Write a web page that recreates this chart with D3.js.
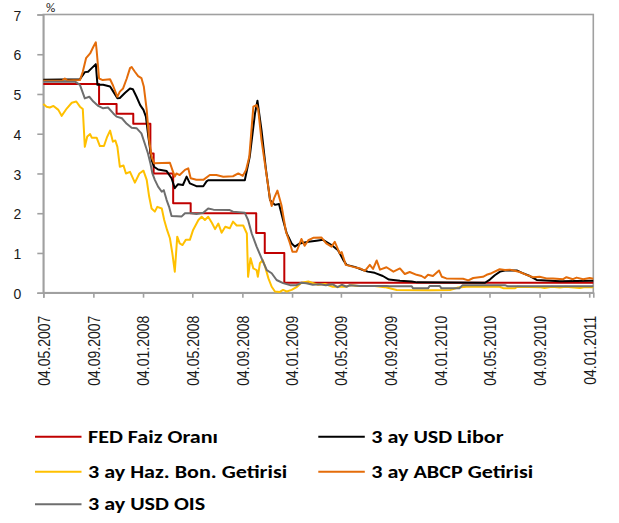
<!DOCTYPE html>
<html>
<head>
<meta charset="utf-8">
<script src="https://cdn.jsdelivr.net/npm/d3@7"></script>
<style>
  html, body { margin: 0; padding: 0; background: #fff; }
  svg { display: block; font-family: Carlito, Lato, "Open Sans", sans-serif; }
</style>
</head>
<body>
<svg id="chart" width="619" height="523"></svg>
<script>
// Faiz oranları, % (Mayıs 2007 – Ocak 2011)
const fedRate = [
  ["2007-05-04", 5.25], ["2007-09-18", 4.75], ["2007-10-31", 4.50], ["2007-12-11", 4.25],
  ["2008-01-22", 3.50], ["2008-01-30", 3.00], ["2008-03-18", 2.25], ["2008-04-30", 2.00],
  ["2008-10-08", 1.50], ["2008-10-29", 1.00], ["2008-12-16", 0.25], ["2011-01-14", 0.25]
];

const liborRate = [
  ["2007-05-04", 5.36], ["2007-08-02", 5.37], ["2007-08-14", 5.55], ["2007-08-22", 5.56],
  ["2007-08-31", 5.65], ["2007-09-10", 5.75], ["2007-09-14", 5.23], ["2007-09-28", 5.23],
  ["2007-10-15", 5.19], ["2007-10-23", 5.06], ["2007-11-02", 4.89], ["2007-11-08", 4.90],
  ["2007-11-21", 5.03], ["2007-12-03", 5.14], ["2007-12-10", 5.12], ["2007-12-19", 4.93],
  ["2007-12-28", 4.72], ["2008-01-05", 4.60], ["2008-01-11", 4.43], ["2008-01-17", 3.93],
  ["2008-01-25", 3.34], ["2008-01-31", 3.17], ["2008-02-10", 3.10], ["2008-03-02", 3.06],
  ["2008-03-14", 2.88], ["2008-03-22", 2.63], ["2008-03-30", 2.73], ["2008-04-11", 2.71],
  ["2008-04-20", 2.92], ["2008-04-28", 2.75], ["2008-05-14", 2.68], ["2008-05-31", 2.68],
  ["2008-06-08", 2.80], ["2008-06-12", 2.83], ["2008-09-10", 2.83], ["2008-09-22", 3.42],
  ["2008-10-05", 4.51], ["2008-10-11", 4.83], ["2008-10-21", 4.09], ["2008-11-01", 3.09],
  ["2008-11-11", 2.33], ["2008-11-23", 2.21], ["2008-12-03", 2.23], ["2008-12-13", 1.83],
  ["2008-12-22", 1.49], ["2009-01-03", 1.24], ["2009-01-11", 1.16], ["2009-01-23", 1.24],
  ["2009-02-13", 1.28], ["2009-03-05", 1.31], ["2009-03-21", 1.33], ["2009-04-11", 1.20],
  ["2009-04-27", 1.07], ["2009-05-10", 0.82], ["2009-05-18", 0.70], ["2009-06-07", 0.65],
  ["2009-06-27", 0.57], ["2009-07-09", 0.53], ["2009-07-26", 0.50], ["2009-08-15", 0.42],
  ["2009-08-30", 0.33], ["2009-09-26", 0.30], ["2009-10-25", 0.28], ["2009-11-07", 0.26],
  ["2010-04-23", 0.25], ["2010-05-05", 0.33], ["2010-05-17", 0.44], ["2010-05-30", 0.53],
  ["2010-06-11", 0.56], ["2010-07-10", 0.56], ["2010-07-23", 0.50], ["2010-08-11", 0.42],
  ["2010-08-28", 0.32], ["2010-10-24", 0.29], ["2011-01-14", 0.30]
];

const tbillRate = [
  ["2007-05-04", 4.75], ["2007-05-12", 4.68], ["2007-05-20", 4.66], ["2007-05-29", 4.70],
  ["2007-06-10", 4.60], ["2007-06-18", 4.45], ["2007-07-01", 4.64], ["2007-07-13", 4.78],
  ["2007-07-24", 4.81], ["2007-08-02", 4.68], ["2007-08-09", 4.62], ["2007-08-14", 3.67],
  ["2007-08-20", 3.93], ["2007-08-27", 3.99], ["2007-08-31", 3.90], ["2007-09-12", 3.90],
  ["2007-09-20", 3.69], ["2007-09-30", 3.69], ["2007-10-07", 3.90], ["2007-10-15", 4.08],
  ["2007-10-22", 3.80], ["2007-10-28", 3.83], ["2007-11-02", 3.67], ["2007-11-08", 3.17],
  ["2007-11-17", 3.20], ["2007-11-23", 3.00], ["2007-12-03", 3.04], ["2007-12-15", 2.77],
  ["2007-12-26", 3.00], ["2008-01-05", 3.07], ["2008-01-13", 2.84], ["2008-01-19", 2.42],
  ["2008-01-25", 2.12], ["2008-02-02", 2.04], ["2008-02-08", 2.16], ["2008-02-19", 2.12],
  ["2008-02-25", 1.83], ["2008-03-03", 1.58], ["2008-03-10", 1.37], ["2008-03-16", 0.99],
  ["2008-03-22", 0.53], ["2008-03-28", 1.41], ["2008-04-03", 1.24], ["2008-04-10", 1.20],
  ["2008-04-18", 1.33], ["2008-04-28", 1.33], ["2008-05-06", 1.58], ["2008-05-19", 1.83],
  ["2008-05-27", 1.91], ["2008-06-04", 1.83], ["2008-06-12", 1.91], ["2008-06-21", 1.76],
  ["2008-06-29", 1.60], ["2008-07-07", 1.74], ["2008-07-15", 1.51], ["2008-07-24", 1.66],
  ["2008-08-04", 1.62], ["2008-08-12", 1.79], ["2008-08-21", 1.69], ["2008-09-06", 1.69],
  ["2008-09-15", 1.49], ["2008-09-18", 0.40], ["2008-09-24", 0.87], ["2008-10-01", 0.61],
  ["2008-10-09", 0.57], ["2008-10-12", 0.40], ["2008-10-17", 0.74], ["2008-10-24", 0.82],
  ["2008-10-30", 0.65], ["2008-11-07", 0.36], ["2008-11-15", 0.15], ["2008-11-23", 0.03],
  ["2008-12-05", 0.02], ["2008-12-13", 0.07], ["2008-12-22", 0.03], ["2009-01-03", 0.07],
  ["2009-01-15", 0.14], ["2009-01-27", 0.25], ["2009-02-13", 0.28], ["2009-02-25", 0.24],
  ["2009-03-09", 0.20], ["2009-03-26", 0.22], ["2009-04-14", 0.15], ["2009-05-14", 0.15],
  ["2009-05-31", 0.19], ["2009-06-15", 0.17], ["2009-07-26", 0.17], ["2009-08-20", 0.14],
  ["2009-09-01", 0.11], ["2009-09-18", 0.07], ["2009-12-08", 0.06], ["2010-01-27", 0.07],
  ["2010-02-16", 0.13], ["2010-03-09", 0.15], ["2010-05-29", 0.15], ["2010-06-08", 0.11],
  ["2010-07-05", 0.11], ["2010-07-12", 0.15], ["2010-09-04", 0.14], ["2010-09-16", 0.12],
  ["2010-10-04", 0.15], ["2010-10-24", 0.13], ["2010-11-07", 0.15], ["2010-12-12", 0.12],
  ["2010-12-25", 0.14], ["2011-01-14", 0.14]
];

const abcpRate = [
  ["2007-05-04", 5.33], ["2007-06-20", 5.34], ["2007-06-26", 5.39], ["2007-07-02", 5.34],
  ["2007-08-02", 5.35], ["2007-08-09", 5.56], ["2007-08-17", 5.90], ["2007-08-27", 6.02],
  ["2007-09-04", 6.19], ["2007-09-10", 6.30], ["2007-09-12", 6.10], ["2007-09-18", 5.39],
  ["2007-09-27", 5.35], ["2007-10-15", 5.37], ["2007-10-22", 5.22], ["2007-11-02", 4.93],
  ["2007-11-08", 5.06], ["2007-11-16", 5.14], ["2007-11-25", 5.39], ["2007-12-03", 5.65],
  ["2007-12-07", 5.68], ["2007-12-15", 5.56], ["2007-12-23", 5.45], ["2007-12-31", 5.40],
  ["2008-01-06", 5.18], ["2008-01-13", 4.60], ["2008-01-19", 3.84], ["2008-01-25", 3.42],
  ["2008-01-31", 3.26], ["2008-03-10", 3.27], ["2008-03-16", 3.09], ["2008-03-22", 2.92],
  ["2008-03-26", 3.00], ["2008-04-03", 2.96], ["2008-04-16", 3.09], ["2008-04-24", 3.13],
  ["2008-04-30", 2.88], ["2008-05-14", 2.84], ["2008-05-31", 2.84], ["2008-06-16", 2.96],
  ["2008-07-02", 2.96], ["2008-07-19", 2.92], ["2008-08-12", 2.93], ["2008-08-25", 3.00],
  ["2008-09-05", 2.94], ["2008-09-13", 3.09], ["2008-09-21", 3.42], ["2008-09-27", 4.18],
  ["2008-10-01", 4.68], ["2008-10-09", 4.72], ["2008-10-13", 4.60], ["2008-10-21", 3.84],
  ["2008-11-03", 2.92], ["2008-11-11", 2.35], ["2008-11-15", 2.18], ["2008-11-21", 2.38],
  ["2008-11-29", 2.57], ["2008-12-09", 2.20], ["2008-12-20", 1.54], ["2008-12-30", 1.24],
  ["2009-01-05", 1.03], ["2009-01-15", 1.03], ["2009-01-27", 1.35], ["2009-02-04", 1.18],
  ["2009-02-13", 1.32], ["2009-02-25", 1.38], ["2009-03-17", 1.39], ["2009-03-29", 1.24],
  ["2009-04-11", 1.16], ["2009-04-19", 1.28], ["2009-05-01", 0.99], ["2009-05-06", 1.02],
  ["2009-05-16", 0.70], ["2009-06-03", 0.65], ["2009-06-20", 0.61], ["2009-07-02", 0.55],
  ["2009-07-14", 0.70], ["2009-07-22", 0.60], ["2009-07-31", 0.81], ["2009-08-08", 0.58],
  ["2009-08-24", 0.64], ["2009-09-10", 0.53], ["2009-09-26", 0.61], ["2009-10-08", 0.47],
  ["2009-10-20", 0.52], ["2009-11-06", 0.45], ["2009-11-18", 0.42], ["2009-11-26", 0.37],
  ["2009-12-04", 0.45], ["2009-12-16", 0.42], ["2009-12-31", 0.56], ["2010-01-07", 0.40],
  ["2010-01-18", 0.36], ["2010-02-28", 0.35], ["2010-03-13", 0.31], ["2010-03-25", 0.37],
  ["2010-04-18", 0.40], ["2010-04-27", 0.45], ["2010-05-09", 0.49], ["2010-05-29", 0.59],
  ["2010-06-11", 0.57], ["2010-06-23", 0.58], ["2010-07-05", 0.55], ["2010-07-17", 0.52],
  ["2010-08-03", 0.45], ["2010-08-19", 0.39], ["2010-09-04", 0.40], ["2010-09-21", 0.36],
  ["2010-10-07", 0.36], ["2010-11-01", 0.34], ["2010-11-09", 0.39], ["2010-11-25", 0.34],
  ["2010-12-04", 0.38], ["2010-12-20", 0.34], ["2011-01-05", 0.37], ["2011-01-14", 0.35]
];

const oisRate = [
  ["2007-05-04", 5.31], ["2007-07-21", 5.31], ["2007-08-02", 5.23], ["2007-08-14", 4.89],
  ["2007-08-25", 4.93], ["2007-09-04", 4.81], ["2007-09-16", 4.70], ["2007-09-28", 4.64],
  ["2007-10-10", 4.66], ["2007-10-23", 4.51], ["2007-10-31", 4.43], ["2007-11-13", 4.39],
  ["2007-11-25", 4.25], ["2007-12-07", 4.15], ["2007-12-19", 4.14], ["2007-12-31", 4.01],
  ["2008-01-08", 3.76], ["2008-01-16", 3.51], ["2008-01-22", 3.26], ["2008-01-27", 3.00],
  ["2008-02-02", 2.84], ["2008-02-10", 2.67], ["2008-02-19", 2.54], ["2008-02-24", 2.58],
  ["2008-03-02", 2.33], ["2008-03-08", 2.16], ["2008-03-14", 1.93], ["2008-04-08", 1.92],
  ["2008-04-16", 2.00], ["2008-05-02", 2.00], ["2008-05-14", 1.98], ["2008-05-31", 2.01],
  ["2008-06-12", 2.12], ["2008-06-25", 2.09], ["2008-08-04", 2.08], ["2008-08-12", 2.04],
  ["2008-09-10", 2.01], ["2008-09-18", 1.83], ["2008-09-27", 1.49], ["2008-10-09", 1.16],
  ["2008-10-21", 0.87], ["2008-11-03", 0.57], ["2008-11-15", 0.49], ["2008-11-27", 0.32],
  ["2008-12-13", 0.24], ["2008-12-30", 0.19], ["2009-01-15", 0.19], ["2009-01-27", 0.25],
  ["2009-02-08", 0.24], ["2009-02-24", 0.20], ["2009-03-13", 0.21], ["2009-03-28", 0.19],
  ["2009-04-14", 0.21], ["2009-04-26", 0.14], ["2009-05-06", 0.20], ["2009-05-18", 0.15],
  ["2009-05-26", 0.19], ["2009-06-20", 0.17], ["2009-08-24", 0.17], ["2009-09-01", 0.16],
  ["2009-10-25", 0.16], ["2009-10-28", 0.11], ["2009-12-04", 0.11], ["2009-12-08", 0.17],
  ["2010-01-02", 0.17], ["2010-01-06", 0.11], ["2010-02-19", 0.11], ["2010-02-27", 0.19],
  ["2010-06-11", 0.19], ["2010-06-18", 0.16], ["2011-01-14", 0.16]
];

// Eksen bilgileri
const xTickDates = [
  "2007-05-04", "2007-09-04", "2008-01-04", "2008-05-04", "2008-09-04", "2009-01-04",
  "2009-05-04", "2009-09-04", "2010-01-04", "2010-05-04", "2010-09-04", "2011-01-04"
];
const yTicks = [0, 1, 2, 3, 4, 5, 6, 7];
const dateRange = ["2007-05-04", "2011-01-14"];

// Seriler (Excel sırası) ve lejant
const seriesNames = ["FED Faiz Oranı", "3 ay USD Libor", "3 ay Haz. Bon. Getirisi", "3 ay ABCP Getirisi", "3 ay USD OIS"];
const seriesData = [fedRate, liborRate, tbillRate, abcpRate, oisRate];
const seriesColors = ["#C00000", "#000000", "#FFC000", "#E46C0A", "#6E6E6E"];

const parse = d3.timeParse("%Y-%m-%d");
const fmt = d3.timeFormat("%d.%m.%Y");

const svg = d3.select("#chart");
const plot = { left: 43.3, right: 593.3, top: 14.5, bottom: 292.7 };

const x = d3.scaleTime()
  .domain(dateRange.map(parse))
  .range([plot.left, plot.right]);
const y = d3.scaleLinear()
  .domain([0, 7])
  .range([plot.bottom, plot.top]);

const axisColor = "#A0A0A0";

// Çizim alanı çerçevesi
svg.append("rect")
  .attr("x", plot.left).attr("y", plot.top)
  .attr("width", plot.right - plot.left).attr("height", plot.bottom - plot.top)
  .attr("fill", "none").attr("stroke", axisColor).attr("stroke-width", 1.6);

// Y ekseni
const yAxis = svg.append("g")
  .attr("transform", `translate(${plot.left},0)`)
  .call(d3.axisLeft(y).tickValues(yTicks).tickSize(6).tickPadding(16).tickFormat(d3.format("d")));
yAxis.select(".domain").attr("stroke", axisColor).attr("stroke-width", 1.6);
yAxis.selectAll(".tick line").attr("stroke", axisColor).attr("stroke-width", 1.6);
yAxis.selectAll(".tick text")
  .attr("fill", "#1a1a1a")
  .style("font-size", "14px")
  .attr("dy", "0.4em");

// X ekseni
const xAxis = svg.append("g")
  .attr("transform", `translate(0,${plot.bottom})`)
  .call(d3.axisBottom(x).tickValues(xTickDates.map(parse)).tickSize(5).tickFormat(fmt));
xAxis.select(".domain").attr("stroke", axisColor).attr("stroke-width", 1.6);
xAxis.selectAll(".tick line").attr("stroke", axisColor).attr("stroke-width", 1.6);
xAxis.selectAll(".tick text")
  .attr("fill", "#1a1a1a")
  .style("font-size", "14px")
  .attr("text-anchor", "end")
  .attr("transform", "scale(1.15,1) rotate(-90)")
  .attr("x", -23)
  .attr("y", 0)
  .attr("dy", "0.36em");

// Birim
svg.append("text")
  .attr("x", 46).attr("y", 12)
  .style("font-size", "13px")
  .attr("fill", "#1a1a1a")
  .text("%");

// Seri çizgileri
const line = d3.line()
  .x(d => x(parse(d[0])))
  .y(d => y(d[1]));
const stepLine = d3.line()
  .x(d => x(parse(d[0])))
  .y(d => y(d[1]))
  .curve(d3.curveStepAfter);

const lines = svg.append("g");
seriesData.forEach((data, i) => {
  lines.append("path")
    .datum(data)
    .attr("fill", "none")
    .attr("stroke", seriesColors[i])
    .attr("stroke-width", 2)
    .attr("stroke-linejoin", "round")
    .attr("d", i === 0 ? stepLine : line);
});

// Lejant (metin yatayda genişletilmiş)
const legendCols = [35, 318.3];
const legendRows = [436.7, 471.7, 504.3];
const legend = svg.append("g");
seriesNames.forEach((name, i) => {
  const cx = legendCols[i % 2];
  const cy = legendRows[Math.floor(i / 2)];
  legend.append("line")
    .attr("x1", cx).attr("x2", cx + 46.5)
    .attr("y1", cy).attr("y2", cy)
    .attr("stroke", seriesColors[i]).attr("stroke-width", 2);
  legend.append("text")
    .attr("transform", `translate(${cx + 53},${cy}) scale(1.3,1)`)
    .attr("dy", "0.36em")
    .style("font-size", "17px")
    .style("font-weight", "bold")
    .attr("fill", "#000")
    .text(name);
});
</script>
</body>
</html>
